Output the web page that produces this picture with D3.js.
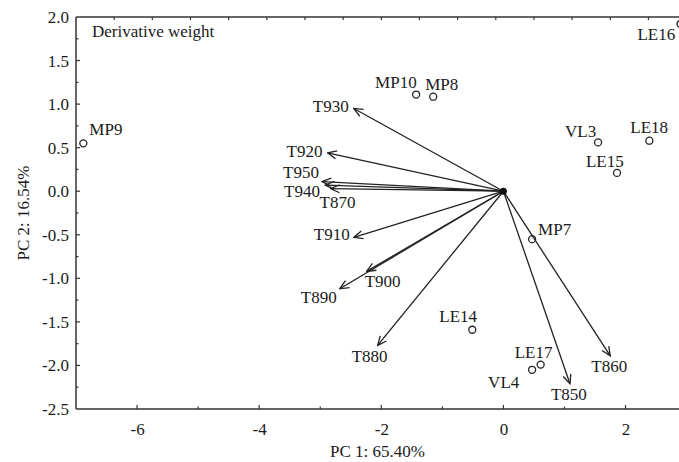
<!DOCTYPE html>
<html>
<head>
<meta charset="utf-8">
<script src="https://cdn.jsdelivr.net/npm/d3@7"></script>
<style>
  body { margin: 0; background: #fff; }
  text { font-family: "Liberation Serif", "Times New Roman", serif; fill: #1a1a1a; }
</style>
</head>
<body>
<div id="chart"></div>
<script>
// case scores (circles)
const scoreNames = ["MP9", "MP10", "MP8", "VL3", "LE18", "LE15", "LE16", "MP7", "LE14", "LE17", "VL4"];
const scoreX = [-6.88, -1.43, -1.15, 1.55, 2.39, 1.86, 2.90, 0.47, -0.51, 0.61, 0.47];
const scoreY = [0.55, 1.11, 1.085, 0.56, 0.58, 0.21, 1.92, -0.55, -1.59, -1.99, -2.05];

// variable loadings (arrows from origin)
const loadNames = ["T930", "T920", "T950", "T940", "T870", "T910", "T900", "T890", "T880", "T850", "T860"];
const loadX = [-2.45, -2.88, -2.97, -2.92, -2.83, -2.45, -2.24, -2.68, -2.06, 1.09, 1.75];
const loadY = [0.95, 0.44, 0.11, 0.07, 0.03, -0.53, -0.92, -1.12, -1.77, -2.21, -1.89];

const xTicks = [-6, -4, -2, 0, 2];
const yTicks = [-2.5, -2.0, -1.5, -1.0, -0.5, 0.0, 0.5, 1.0, 1.5, 2.0];

// label placement relative to the mark (layout only)
const scoreLabelOffset = {
  MP9: [6, -8], MP10: [-41, -7], MP8: [-8, -7], VL3: [-33, -5], LE18: [-19, -8],
  LE15: [-31, -6], LE16: [-43, 16], MP7: [6, -4], LE14: [-33, -8], LE17: [-26, -7], VL4: [-44, 18]
};
const loadLabelOffset = {
  T930: [-41, 4], T920: [-41, 4], T950: [-39, -4], T940: [-41, 12], T870: [-11, 19],
  T910: [-40, 3], T900: [-2, 16], T890: [-39, 14], T880: [-26, 17], T850: [-19, 16], T860: [-19, 16]
};

const width = 679, height = 462;
const svg = d3.select("#chart").append("svg")
  .attr("width", width).attr("height", height);

const x = d3.scaleLinear().domain([-7, 3]).range([76, 686.6]);
const y = d3.scaleLinear().domain([-2.5, 2.0]).range([409, 17]);
// top frame ticks follow their own spacing
const xTop = d3.scaleLinear().domain([0, 16]).range([76, 686.6]);

const axisColor = "#333";
const hyphen = f => d => f(d).replace("\u2212", "-");

// frame lines
svg.append("line").attr("x1", x(-7)).attr("x2", width).attr("y1", y(2)).attr("y2", y(2))
  .attr("stroke", axisColor).attr("stroke-width", 1.5);
svg.append("line").attr("x1", x(-7)).attr("x2", width).attr("y1", y(-2.5)).attr("y2", y(-2.5))
  .attr("stroke", axisColor).attr("stroke-width", 1.5);
svg.append("line").attr("x1", x(-7)).attr("x2", x(-7)).attr("y1", y(2)).attr("y2", y(-2.5))
  .attr("stroke", axisColor).attr("stroke-width", 1.5);

// bottom axis
const xAxis = d3.axisBottom(x).tickValues(xTicks).tickSize(0).tickPadding(14)
  .tickFormat(hyphen(d3.format("d")));
const gx = svg.append("g").attr("transform", `translate(0,${y(-2.5)})`).call(xAxis);
gx.select(".domain").remove();
gx.attr("font-family", null).attr("font-size", null);
gx.selectAll("text").style("font-size", "17px");

svg.append("g").selectAll("line")
  .data(d3.range(-6, 3, 1))
  .join("line")
  .attr("x1", d => x(d)).attr("x2", d => x(d))
  .attr("y1", y(-2.5)).attr("y2", d => y(-2.5) - (d % 2 === 0 ? 4 : 2.5))
  .attr("stroke", axisColor).attr("stroke-width", 1.2);

// top ticks
svg.append("g").selectAll("line")
  .data(d3.range(1, 16, 1))
  .join("line")
  .attr("x1", d => xTop(d)).attr("x2", d => xTop(d))
  .attr("y1", y(2)).attr("y2", y(2) + 3)
  .attr("stroke", axisColor).attr("stroke-width", 1.2);

// left axis
const yAxis = d3.axisLeft(y).tickValues(yTicks).tickSize(0).tickPadding(7)
  .tickFormat(hyphen(d3.format(".1f")));
const gy = svg.append("g").attr("transform", `translate(${x(-7)},0)`).call(yAxis);
gy.select(".domain").remove();
gy.attr("font-family", null).attr("font-size", null);
gy.selectAll("text").style("font-size", "17px");

svg.append("g").selectAll("line")
  .data(d3.range(-2.25, 2.0, 0.25))
  .join("line")
  .attr("x1", x(-7)).attr("x2", d => x(-7) + (Math.abs(d * 2 - Math.round(d * 2)) < 1e-6 ? 4 : 2.5))
  .attr("y1", d => y(d)).attr("y2", d => y(d))
  .attr("stroke", axisColor).attr("stroke-width", 1.2);

// axis titles
svg.append("text")
  .attr("x", (x(-7) + width) / 2).attr("y", 457)
  .attr("text-anchor", "middle").style("font-size", "17px")
  .text("PC 1: 65.40%");
svg.append("text")
  .attr("transform", `translate(29,${(y(2) + y(-2.5)) / 2}) rotate(-90)`)
  .attr("text-anchor", "middle").style("font-size", "17px")
  .text("PC 2: 16.54%");

svg.append("text")
  .attr("x", 92).attr("y", 37).style("font-size", "17px")
  .text("Derivative weight");

// arrowheads
svg.append("defs").append("marker")
  .attr("id", "head")
  .attr("markerUnits", "userSpaceOnUse")
  .attr("viewBox", "-1 -6 11 12")
  .attr("markerWidth", 11).attr("markerHeight", 12)
  .attr("refX", 9).attr("refY", 0)
  .attr("orient", "auto")
  .append("path")
  .attr("d", "M0,-4L9,0L0,4")
  .attr("fill", "none").attr("stroke", "#222").attr("stroke-width", 1.3);

const loadings = loadNames.map((name, i) => ({ name, x: loadX[i], y: loadY[i] }));
const scores = scoreNames.map((name, i) => ({ name, x: scoreX[i], y: scoreY[i] }));

const plot = svg.append("g");

plot.selectAll("line.load")
  .data(loadings)
  .join("line")
  .attr("class", "load")
  .attr("x1", x(0)).attr("y1", y(0))
  .attr("x2", d => x(d.x)).attr("y2", d => y(d.y))
  .attr("stroke", "#222").attr("stroke-width", 1.3)
  .attr("marker-end", "url(#head)");

plot.append("circle")
  .attr("cx", x(0)).attr("cy", y(0)).attr("r", 3.5).attr("fill", "#111");

plot.selectAll("text.load")
  .data(loadings)
  .join("text")
  .attr("class", "load")
  .attr("x", d => x(d.x) + loadLabelOffset[d.name][0])
  .attr("y", d => y(d.y) + loadLabelOffset[d.name][1])
  .style("font-size", "17px")
  .text(d => d.name);

plot.selectAll("circle.score")
  .data(scores)
  .join("circle")
  .attr("class", "score")
  .attr("cx", d => x(d.x)).attr("cy", d => y(d.y))
  .attr("r", 3.5)
  .attr("fill", "none").attr("stroke", "#222").attr("stroke-width", 1.3);

plot.selectAll("text.score")
  .data(scores)
  .join("text")
  .attr("class", "score")
  .attr("x", d => x(d.x) + scoreLabelOffset[d.name][0])
  .attr("y", d => y(d.y) + scoreLabelOffset[d.name][1])
  .style("font-size", "17px")
  .text(d => d.name);
</script>
</body>
</html>
